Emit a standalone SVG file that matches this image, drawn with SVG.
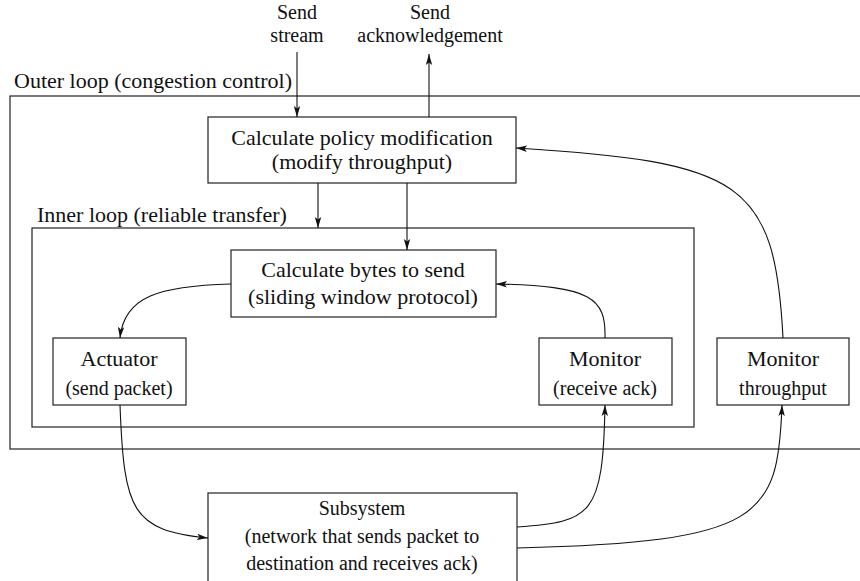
<svg xmlns="http://www.w3.org/2000/svg" width="860" height="581" viewBox="0 0 860 581">
<style>
text{font-family:"Liberation Serif","Times New Roman",serif;fill:#111;text-anchor:middle;font-size:22px}
.sm{font-size:20px}
.lbl{text-anchor:start}
.box{fill:#fff;stroke:#222;stroke-width:1.2}
.frame{fill:none;stroke:#222;stroke-width:1.2}
.c{fill:none;stroke:#111;stroke-width:1.1;marker-end:url(#ah)}
</style>
<defs>
<marker id="ah" markerWidth="12" markerHeight="8" refX="11" refY="4" orient="auto" markerUnits="userSpaceOnUse">
<path d="M0,0.8 L11,4 L0,7.2 L2.5,4 Z" fill="#111"/>
</marker>
</defs>
<rect width="860" height="581" fill="#fff"/>
<g id="outer-loop">
<rect class="frame" x="10" y="96" width="870" height="353"/>
<text class="lbl" x="14" y="88">Outer loop (congestion control)</text>
</g>
<g id="inner-loop">
<rect class="frame" x="32" y="228" width="662" height="199"/>
<text class="lbl" x="37" y="222">Inner loop (reliable transfer)</text>
</g>
<g id="send-stream"><text class="sm" x="297" y="19">Send</text><text class="sm" x="297" y="42">stream</text></g>
<g id="send-ack"><text class="sm" x="430" y="19">Send</text><text class="sm" x="430" y="42">acknowledgement</text></g>
<g id="calc-policy">
<rect class="box" x="208" y="117" width="308" height="66"/>
<text x="362" y="145">Calculate policy modification</text>
<text x="362" y="169">(modify throughput)</text>
</g>
<g id="calc-bytes">
<rect class="box" x="231" y="250" width="265" height="67"/>
<text x="363" y="277">Calculate bytes to send</text>
<text x="363" y="304">(sliding window protocol)</text>
</g>
<g id="actuator">
<rect class="box" x="53" y="338" width="133" height="67"/>
<text x="119" y="366">Actuator</text>
<text class="sm" x="119" y="395">(send packet)</text>
</g>
<g id="monitor-ack">
<rect class="box" x="539" y="338" width="133" height="67"/>
<text x="605" y="366">Monitor</text>
<text class="sm" x="605" y="395">(receive ack)</text>
</g>
<g id="monitor-throughput">
<rect class="box" x="717" y="338" width="132" height="67"/>
<text x="783" y="366">Monitor</text>
<text class="sm" x="783" y="395">throughput</text>
</g>
<g id="subsystem">
<rect class="box" x="208" y="493" width="309" height="100"/>
<text class="sm" x="362" y="515">Subsystem</text>
<text class="sm" x="362" y="543">(network that sends packet to</text>
<text class="sm" x="362" y="570">destination and receives ack)</text>
</g>
<g id="connectors">
<path class="c" d="M297,52 L297,117"/>
<path class="c" d="M429,117 L429,54"/>
<path class="c" d="M318,183 L318,228"/>
<path class="c" d="M407,183 L407,250"/>
<path class="c" d="M231,284 C160,286 124,296 120,338"/>
<path class="c" d="M605,338 C606,298 592,286 496,284"/>
<path class="c" d="M783,338 C775,180 740,162 516,148"/>
<path class="c" d="M120,405 C124,512 132,530 208,538"/>
<path class="c" d="M517,527 C592,522 603,515 605,405"/>
<path class="c" d="M517,548 C762,542 778,518 782,405"/>
</g>
</svg>
